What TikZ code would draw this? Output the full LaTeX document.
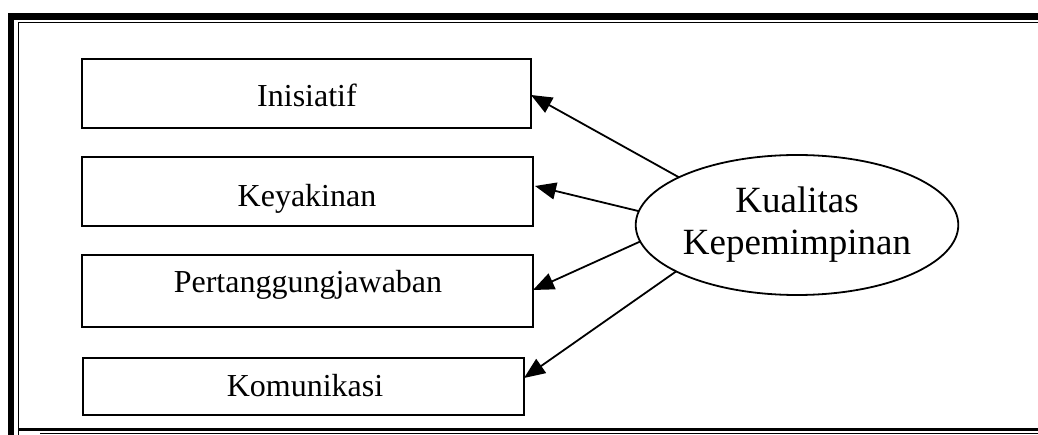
\documentclass[tikz,border=0pt]{standalone}
\usepackage{fontspec}
\setmainfont{Liberation Serif}
\usetikzlibrary{arrows.meta,shapes.geometric}
\begin{document}
\begin{tikzpicture}[x=1pt,y=-1pt,
  box/.style={draw,line width=2pt,inner sep=0pt,outer sep=0pt},
  lbl/.style={inner sep=0pt,anchor=base,font=\fontsize{32}{38}\selectfont},
  ell/.style={draw,ellipse,line width=1.8pt,inner sep=0pt,outer sep=0pt,align=center,
    minimum width=322pt,minimum height=140pt,font=\fontsize{37}{42}\selectfont},
  arr/.style={line width=1.8pt,-{Triangle[length=21pt,width=17pt]}}]
\useasboundingbox (0,0) rectangle (1038,435);
% frame
\draw[line width=6.5pt] (11,435) -- (11,16.5) -- (1040,16.5);
\draw[line width=1.5pt] (18.5,435) -- (18.5,22.5) -- (1040,22.5);
\draw[line width=2.5pt] (18.5,429.5) -- (1040,429.5);
\draw[line width=1.2pt] (40,433.5) -- (1040,433.5);
% boxes
\node[box,minimum width=449pt,minimum height=69pt] (b1) at (306.5,93.5) {};
\node[box,minimum width=451pt,minimum height=69pt] (b2) at (307.5,191.5) {};
\node[box,minimum width=451pt,minimum height=72pt] (b3) at (307.5,291) {};
\node[box,minimum width=441pt,minimum height=57pt] (b4) at (303.5,386.5) {};
\node[lbl] (t1) at (307,107) {Inisiatif};
\node[lbl] (t2) at (307,207) {Keyakinan};
\node[lbl] (t3) at (308,293) {Pertanggungjawaban};
\node[lbl] (t4) at (305,396) {Komunikasi};
% ellipse
\node[ell] (k) at (797,225) {Kualitas\\Kepemimpinan};
% arrows
\draw[arr] (k.158.6) -- ([yshift=-1.5pt]b1.east);
\draw[arr] (k.175.3) -- ([xshift=2pt,yshift=5.5pt]b2.east);
\draw[arr] (k.186.1) -- ([yshift=1pt]b3.east);
\draw[arr] (k.201) -- ([yshift=8.5pt]b4.east);
\end{tikzpicture}
\end{document}
